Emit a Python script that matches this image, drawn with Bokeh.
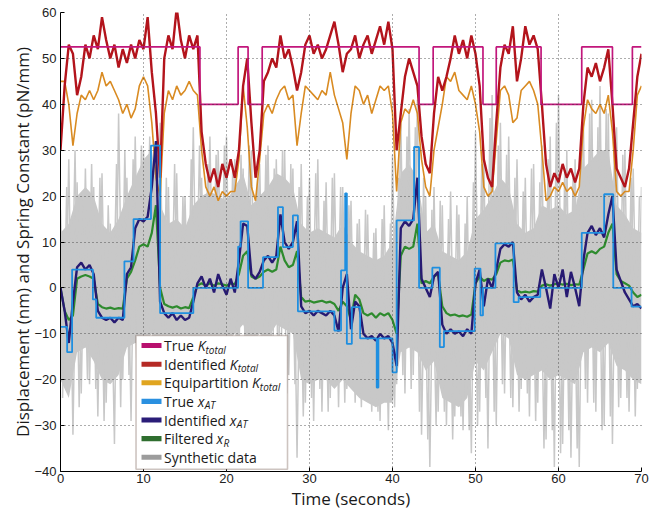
import numpy as np
from bokeh.plotting import figure
from bokeh.models import Range1d, FixedTicker, Label, BoxAnnotation
from bokeh.embed import file_html
from bokeh.resources import INLINE

# ---------------- data ----------------
time_s = np.arange(0, 70.5, 0.5)        # sample times, seconds
time_s_b = np.arange(0.25, 70.0, 0.5)   # in-between sample times
time_1s = np.arange(0, 71, 1.0)         # coarse times for the synthetic-data core band

# True K_total: step function (change times, levels)
k_true_t = [0, 16.8, 21.4, 22.6, 24.3, 43.2, 44.9, 50.9, 52.5, 57.9, 62.8, 66.5, 68.9, 70]
k_true_v = [52.5, 40, 52.5, 40, 52.5, 40, 52.5, 40, 52.5, 40, 52.5, 40, 52.5, 52.5]

# Identified K_total
k_ident = [
    30, 44, 53, 51, 42, 46, 53, 50, 55, 52,
    59, 54, 50, 53, 48, 52, 49, 53, 50, 54,
    52, 59, 47, 38, 24, 50, 55, 52, 61, 54,
    50, 55, 52, 55, 34, 27, 23, 26, 22, 27,
    24, 28, 24, 30, 44, 50, 36, 24, 30, 45,
    47, 50, 48, 55, 50, 52, 48, 43, 47, 53,
    55, 51, 53, 50, 52, 55, 58, 53, 47, 51,
    52, 55, 50, 53, 55, 51, 54, 57, 53, 58,
    52, 30, 38, 46, 50, 47, 44, 33, 27, 25,
    38, 46, 43, 46, 50, 55, 51, 54, 50, 55,
    51, 44, 28, 24, 22, 36, 48, 53, 51, 57,
    45, 50, 57, 53, 55, 52, 40, 27, 22, 25,
    23, 27, 24, 26, 23, 26, 40, 48, 46, 49,
    45, 48, 52, 40, 26, 24, 22, 26, 36, 46,
    51]

# Equipartition K_total
k_equip = [
    45, 45, 40, 31, 38, 42, 41, 43, 41, 43,
    47, 44, 45, 43, 41, 38, 40, 37, 39, 44,
    46, 44, 36, 24, 20, 38, 43, 41, 44, 42,
    43, 45, 43, 42, 30, 22, 20, 22, 19, 21,
    20, 21, 21, 28, 44, 35, 22, 19, 28, 38,
    40, 38, 41, 43, 44, 41, 42, 31, 38, 44,
    43, 42, 41, 43, 42, 47, 42, 39, 36, 28,
    38, 44, 43, 40, 42, 38, 41, 44, 43, 44,
    38, 21, 36, 39, 38, 41, 38, 28, 22, 20,
    30, 35, 40, 46, 45, 47, 43, 42, 41, 44,
    40, 34, 22, 20, 21, 32, 43, 44, 42, 36,
    37, 43, 44, 45, 43, 40, 30, 19, 20, 22,
    21, 23, 21, 22, 20, 22, 35, 41, 39, 38,
    40, 38, 42, 34, 21, 20, 21, 21, 30, 42,
    44]

# True x_AT: step function (change times, levels)
xat_true_t = [0, 0.8, 1.4, 3.9, 4.3, 7.7, 8.8, 10.9, 12.0, 16.0, 21.4, 21.7, 22.6,
              24.4, 26.2, 26.8, 28.0, 28.6, 33.0, 33.8, 34.3, 34.5, 35.1, 36.1,
              38.1, 38.3, 40.0, 40.5, 42.6, 43.2, 44.8, 45.7, 46.2, 49.9, 50.6,
              50.9, 52.4, 54.6, 55.2, 57.8, 62.8, 65.5, 66.6, 68.8, 70]
xat_true_v = [-8.5, -14, 4, -2.5, -6.5, 5.8, 15, 31, -5.5, 0, 9, 14.5, 0,
              6.7, 17.6, 8.9, 15.8, -5.1, -9.3, 3.8, 20.6, -12.2, -4.2, -11,
              -21.7, -11, -18.4, 14.7, 30.7, 0, 4.4, -12.9, -9.4, 4.2, -6,
              0, 9.7, -3.1, -2, 0, 12, 20.4, 0, -4.1, -4.1]

# Identified x_AT
xat_ident = [
    0, -5, -12, -3, 4.5, 5.5, 4, 5, 3, -5,
    -6.5, -7, -6.5, -7.5, -6.5, -7, 3, 4.5, 13, 15,
    14.5, 15.5, 22, 32, -3, -5.5, -6.5, -5.5, -7, -6,
    -7, -6.5, -3, 1, 2.5, 0, 2, -1, 3, 0.5,
    -1.5, 2, -1, 6, 14, 13.5, 3, 2, 3.5, 6,
    7, 5.5, 7, 16, 10, 8.5, 10, 14.5, -4, -5.5,
    -5, -6, -5, -5.5, -6, -5, -6, -9.5, 0, 3,
    -9, -3, -4, -10, -11, -10.5, -11.5, -10, -11, -10.5,
    -12, -17, 13, 14.5, 13.5, 15, 24, 2, 0, -2,
    2.5, 3.5, -8, -10, -9, -10, -9.5, -10.5, -9, -10,
    1, 4, -4, 2, 0, 4, 8.5, 9.5, 9, 10,
    -1, -2.5, -1.5, -3, -2, -1.5, 4, 0, -4.5, 3,
    0, 4, -2, 3.5, 0, -4, 6, 12, 13.5, 11.5,
    13, 11, 16, 20, 4, 1.5, -1, -2.5, -4, -3.5,
    -4.5]

# Filtered x_R
xr_filt = [
    0, -5, -7, -6, 2, 2.5, 2.8, 2.5, 2, -3.5,
    -4.2, -4.5, -4.3, -4.6, -4.4, -4.5, 2, 3.5, 6, 9,
    9.5, 9, 12, 18, 0, -3.5, -4, -4.3, -4, -4.5,
    -4.2, -4.4, -2, 0.5, 1, 0.5, 1, 0.5, 1, 0.8,
    0.5, 1, 0.8, 3, 7, 8, 2.5, 2, 2.5, 3.5,
    4, 3.5, 4, 9, 6, 4.5, 5, 8, -2, -3,
    -2.8, -3.2, -3, -2.8, -3.2, -3, -3.5, -5, -3, -4,
    -7, -1.5, -2.5, -5.5, -6, -5.5, -6.5, -5.5, -6, -5.5,
    -7, -10, 7, 9, 8.5, 9, 14, 1, 1.5, 1,
    2.5, 3, -4, -5.5, -6, -5.8, -6.2, -6, -6.3, -5.8,
    1, 2.5, 1.5, 2, 1.8, 3, 5.5, 6, 5.8, 6.2,
    -0.5, -1, -0.8, -1, -0.7, -0.8, 0.5, 0.8, 0.5, 0.8,
    1, 0.7, 0.9, 0.6, 0.8, 0.7, 4, 7.5, 8, 7.5,
    8.5, 9, 12, 14, 3, 1.5, 1, 0.5, -1, -2,
    -1.5]

# Synthetic data: excursions at t = 0, 0.5, 1, ...
synthetic = [
    17, -19, 28, -32, 23, -23, 26, -21, 22, -28,
    25, -25, 14, -34, 38, -20, 24, -29, 33, -17,
    30, -19, 27, -15, 36, -20, 22, -24.5, 25, -22,
    20, -17, 35, -20, 24, -14, 33, -16, 30, -12,
    33, -19, 28, -14, 26, -17, 30, -13, 27, -18,
    31, -22, 28, -24, 30, -19, 26, -37, 27, -25,
    24, -29, 28, -27, 23, -24, 25, -26, 22, -22,
    19, -25, 15, -23, 16, -27, 13, -29, 18, -31,
    29, -21, 37, -23, 39, -19, 41, -32, 20, -39,
    22, -27, 18, -30, 21, -28, 16, -31, 20, -36,
    34, -27, 30, -35, 42, -30, 36, -23, 33, -26,
    28, -22, 24, -28, 27, -25, 31, -33, 33, -39,
    42, -34, 30, -37, 28, -39, 36, -25, 41, -27,
    44, -30, 38, -34, 35, -24, 30, -27, 26, -22,
    22]

# Synthetic data: excursions at t = 0.25, 0.75, 1.25, ...
synthetic_b = [
    -24, 22, -18, 30, -26, 19, -20, 27, -22, 24,
    -29, 18, -17, 27, -26, 30, -19, 28, -22, 31,
    -15, 33, -20, 29, -26, 24, -19, 27, -24, 20,
    -22, 28, -16, 31, -17, 27, -13, 29, -18, 31,
    -15, 26, -19, 29, -14, 31, -18, 24, -15, 29,
    -19, 26, -20, 30, -23, 27, -21, 22, -28, 20,
    -24, 25, -22, 19, -27, 24, -21, 22, -25, 18,
    -22, 14, -26, 17, -24, 12, -27, 15, -24, 14,
    -26, 24, -19, 33, -22, 35, -27, 24, -33, 17,
    -30, 19, -27, 15, -33, 18, -28, 14, -31, 23,
    -30, 27, -24, 37, -27, 31, -21, 29, -24, 24,
    -27, 21, -23, 26, -29, 23, -35, 28, -31, 36,
    -36, 26, -31, 24, -35, 30, -22, 38, -25, 35,
    -31, 39, -28, 33, -26, 29, -24, 24, -28, 20]

# Synthetic data: dense core of the trace (every 1 s)
syn_core_hi = [
    12, 14, 20, 22, 20, 14, 12, 15, 20, 24,
    28, 30, 18, 14, 15, 13, 18, 20, 21, 20,
    19, 22, 25, 18, 20, 22, 25, 24, 22, 14,
    12, 13, 12, 11, 14, 10, 8, 7, 6, 7,
    10, 25, 27, 24, 12, 14, 8, 7, 6, 8,
    15, 17, 20, 24, 22, 14, 12, 13, 18, 17,
    18, 16, 17, 26, 28, 30, 30, 18, 16, 13,
    12]
syn_core_lo = [
    -20, -24, -14, -13, -16, -20, -21, -19, -13, -12,
    -12, -10, -18, -19, -20, -19, -14, -12, -12, -11,
    -12, -10, -8, -12, -10, -11, -8, -9, -10, -20,
    -21, -20, -20, -22, -20, -22, -24, -25, -26, -25,
    -25, -14, -13, -14, -18, -16, -24, -25, -26, -24,
    -16, -18, -14, -10, -11, -19, -20, -19, -18, -20,
    -19, -20, -21, -14, -13, -14, -12, -17, -18, -20,
    -21]

x_ticks = [0, 10, 20, 30, 40, 50, 60, 70]
y_ticks = [-40, -30, -20, -10, 0, 10, 20, 30, 40, 50, 60]

# ---------------- styles ----------------
C_KTRUE = "#c2177c"
C_KID = "#b3141c"
C_KEQ = "#d98b22"
C_XTRUE = "#1f8fe0"
C_XID = "#271a72"
C_XR = "#2e8b2e"
C_SYN = "#c8c8c8"

LABEL_FONT = "Open Sans"
TICK_FONT = "Liberation Sans"

p = figure(width=656, height=512, output_backend="svg", toolbar_location=None,
           x_range=Range1d(0, 70), y_range=Range1d(-40, 60),
           min_border_left=60, min_border_right=15, min_border_top=12,
           min_border_bottom=41)
p.outline_line_color = None
p.background_fill_color = "white"
p.border_fill_color = "white"

# lines
p.varea(x=time_1s, y1=syn_core_lo, y2=syn_core_hi, fill_color=C_SYN, fill_alpha=1)
p.line(time_s_b, synthetic_b, line_color=C_SYN, line_width=1.5)
p.line(time_s, synthetic, line_color=C_SYN, line_width=1.5)
p.line(time_s, k_equip, line_color=C_KEQ, line_width=1.6)
p.line(time_s, k_ident, line_color=C_KID, line_width=2.4)
p.step(k_true_t, k_true_v, mode="after", line_color=C_KTRUE, line_width=1.7)
p.line(time_s, xr_filt, line_color=C_XR, line_width=2.2)
p.line(time_s, xat_ident, line_color=C_XID, line_width=2.4)
p.step(xat_true_t, xat_true_v, mode="after", line_color=C_XTRUE, line_width=1.8)

# axes
for ax in (p.xaxis, p.yaxis):
    ax.axis_line_color = "black"
    ax.axis_line_width = 1
    ax.major_tick_in = 4
    ax.major_tick_out = 0
    ax.minor_tick_line_color = None
    ax.major_tick_line_color = "black"
    ax.major_label_text_font = TICK_FONT
    ax.major_label_text_font_size = "13px"
    ax.major_label_text_color = "#222222"
    ax.axis_label_text_font = LABEL_FONT
    ax.axis_label_text_font_size = "17px"
    ax.axis_label_text_font_style = "normal"
    ax.axis_label_text_color = "#1a1a1a"

p.xaxis.ticker = FixedTicker(ticks=x_ticks)
p.yaxis.ticker = FixedTicker(ticks=y_ticks)
p.xaxis.axis_label = "Time (seconds)"
p.yaxis.axis_label = "Displacement (nm) and Spring Constant (pN/mm)"
p.xaxis.major_label_standoff = 2
p.xaxis.axis_label_standoff = 1
p.yaxis.major_label_standoff = 4
p.yaxis.axis_label_standoff = -3

# dotted grid drawn above the data but below the legend
p.grid.grid_line_color = "#333333"
p.grid.grid_line_dash = "1 3"
p.grid.grid_line_width = 1
p.grid.grid_line_alpha = 0.8
p.grid.level = "guide"

# ---------------- legend (drawn by hand for subscripts) ----------------
PX_X = 70 / 581.0   # data units per pixel, x
PX_Y = 100 / 458.4  # data units per pixel, y

leg_left, leg_right, leg_top, leg_bottom = 9.10, 27.35, -10.37, -39.52
p.add_layout(BoxAnnotation(left=leg_left, right=leg_right, top=leg_top, bottom=leg_bottom,
                           fill_color="white", fill_alpha=1,
                           line_color="#5b3a2e", line_width=1.6))

rows = [
    ("True ", "K", "total", "#b8106e"),
    ("Identified ", "K", "total", "#b52a25"),
    ("Equipartition ", "K", "total", "#e0a520"),
    ("True ", "x", "AT", "#2a90e0"),
    ("Identified ", "x", "AT", "#2a1d78"),
    ("Filtered ", "x", "R", "#2f6e2f"),
    ("Synthetic data", "", "", "#9c9c9c"),
]
main_w = {"True ": 2.403, "Identified ": 4.702, "Equipartition ": 6.288,
          "Filtered ": 3.758, "Synthetic data": 7.0}
FS = 14.0
row_y0 = -12.55
row_dy = 18.6 * PX_Y
sw_left, sw_right = 9.76, 12.17
txt_x = 12.47
for i, (main, sym, sub, col) in enumerate(rows):
    y = row_y0 - i * row_dy
    p.add_layout(BoxAnnotation(left=sw_left, right=sw_right,
                               bottom=y - 2.5 * PX_Y, top=y + 2.5 * PX_Y,
                               fill_color=col, fill_alpha=1, line_color=None))
    p.add_layout(Label(x=txt_x, y=y, text=main, text_baseline="middle",
                       text_font=LABEL_FONT, text_font_size="14px", text_color="#1a1a1a"))
    if sym:
        xs = txt_x + main_w[main] * FS * PX_X
        p.add_layout(Label(x=xs, y=y, text=sym, text_baseline="middle",
                           text_font=LABEL_FONT, text_font_size="14px",
                           text_font_style="italic", text_color="#1a1a1a"))
        w_sym = (0.56 if sym == "K" else 0.50) * FS
        p.add_layout(Label(x=xs + w_sym * PX_X, y=y - 4 * PX_Y, text=sub,
                           text_baseline="middle", text_font=LABEL_FONT,
                           text_font_size="10px", text_font_style="italic",
                           text_color="#1a1a1a"))

open("out.html", "w").write(file_html(p, INLINE))
